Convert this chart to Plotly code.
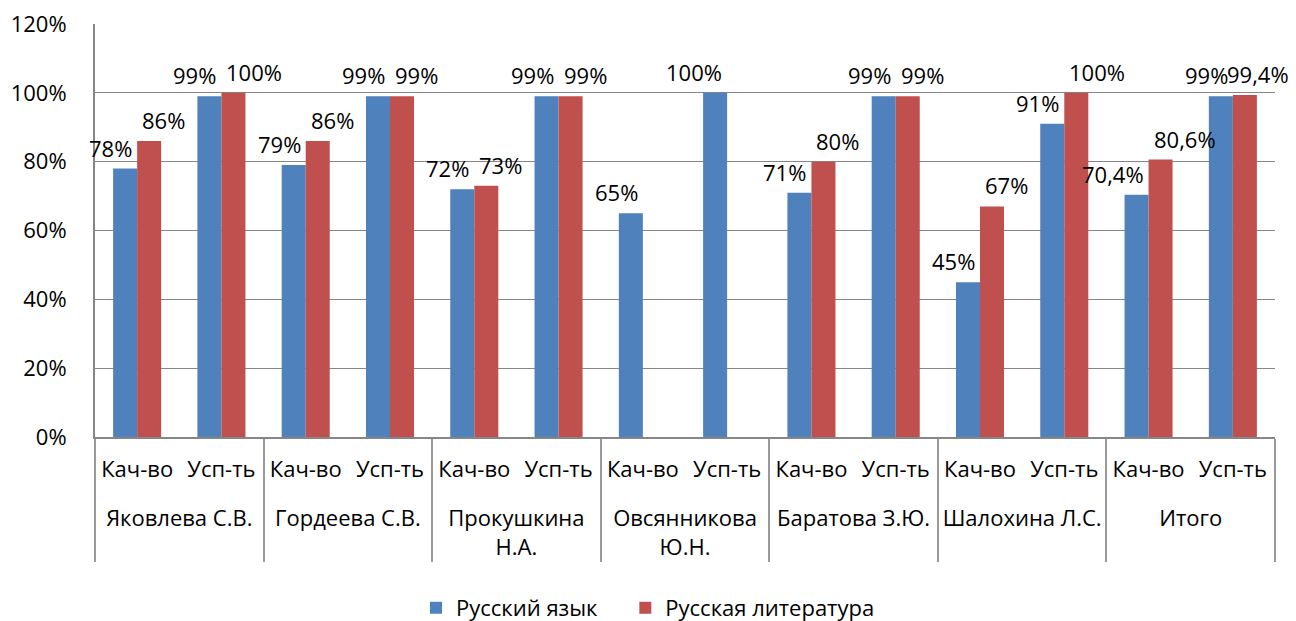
import plotly.graph_objects as go

teachers = ["Яковлева С.В.", "Гордеева С.В.", "Прокушкина<br>Н.А.", "Овсянникова<br>Ю.Н.",
            "Баратова З.Ю.", "Шалохина Л.С.", "Итого"]
metrics = ["Кач-во", "Усп-ть"]
series_names = ["Русский язык", "Русская литература"]

russian_lang = [78, 99, 79, 99, 72, 99, 65, 100, 71, 99, 45, 91, 70.4, 99]
russian_lit = [86, 100, 86, 99, 73, 99, None, None, 80, 99, 67, 100, 80.6, 99.4]

y_ticks = [0, 20, 40, 60, 80, 100, 120]

BLUE = "#4F81BD"
RED = "#C0504D"
FONT = "Open Sans"
FS = 22


def fmt(v):
    return f"{v:g}".replace(".", ",") + "%"


# outer level gets a leading blank line to space it from the inner level
outer = ["\u00a0<br>" + t for t in teachers for _ in metrics]
inner = [m for _ in teachers for m in metrics]
n = len(inner)

fig = go.Figure()
fig.add_trace(go.Bar(x=[outer, inner], y=russian_lang, name=series_names[0] + "\u00a0" * 4,
                     marker=dict(color=BLUE, line=dict(width=0))))
fig.add_trace(go.Bar(x=[outer, inner], y=russian_lit, name=series_names[1],
                     marker=dict(color=RED, line=dict(width=0))))
# invisible helper trace on the numeric overlay axis (category index scale)
fig.add_trace(go.Scatter(x=list(range(n)), y=russian_lang, xaxis="x2", mode="markers",
                         marker=dict(opacity=0), showlegend=False, hoverinfo="skip"))

annotations = []
lab_font = dict(family=FONT, size=FS, color="black")
for i, v in enumerate(russian_lang):
    if v is None:
        continue
    annotations.append(dict(x=i, y=v, xref="x2", yref="y", text=fmt(v), showarrow=False,
                            xanchor="right", yanchor="bottom", xshift=-3, yshift=4,
                            font=lab_font))
for i, v in enumerate(russian_lit):
    if v is None:
        continue
    annotations.append(dict(x=i, y=v, xref="x2", yref="y", text=fmt(v), showarrow=False,
                            xanchor="left", yanchor="bottom",
                            xshift=3 if i < n - 1 else -8, yshift=4,
                            font=lab_font))

fig.update_layout(
    width=1296, height=621,
    margin=dict(l=95, r=21, t=24, b=184, autoexpand=False),
    paper_bgcolor="white", plot_bgcolor="white",
    font=dict(family=FONT, size=FS, color="black"),
    barmode="group", bargap=0.43, bargroupgap=0,
    annotations=annotations,
    xaxis=dict(type="multicategory", range=[-0.5, n - 0.5], automargin=False,
               showline=True, linecolor="#868686", linewidth=2,
               showdividers=True, dividercolor="#9a9a9a", dividerwidth=2,
               ticks="", ticklabelstandoff=12,
               tickfont=dict(family=FONT, size=FS, color="black"),
               showgrid=False),
    xaxis2=dict(overlaying="x", range=[-0.5, n - 0.5], visible=False, anchor="y"),
    yaxis=dict(range=[0, 120], tickvals=y_ticks, ticktext=[f"{t}%" for t in y_ticks],
               automargin=False,
               showgrid=True, gridcolor="#868686", gridwidth=1,
               showline=True, linecolor="#868686", linewidth=2,
               zeroline=False,
               ticks="outside", ticklen=22, tickcolor="rgba(0,0,0,0)",
               tickfont=dict(family=FONT, size=FS, color="black")),
    legend=dict(orientation="h", xref="container", yref="container",
                x=0.5, xanchor="center", y=0.021, yanchor="middle",
                font=dict(family=FONT, size=FS, color="black"),
                itemwidth=30, traceorder="normal"),
)

fig.write_html("out.html", config={"displayModeBar": False},
               post_script="document.body.style.margin='0px';")
